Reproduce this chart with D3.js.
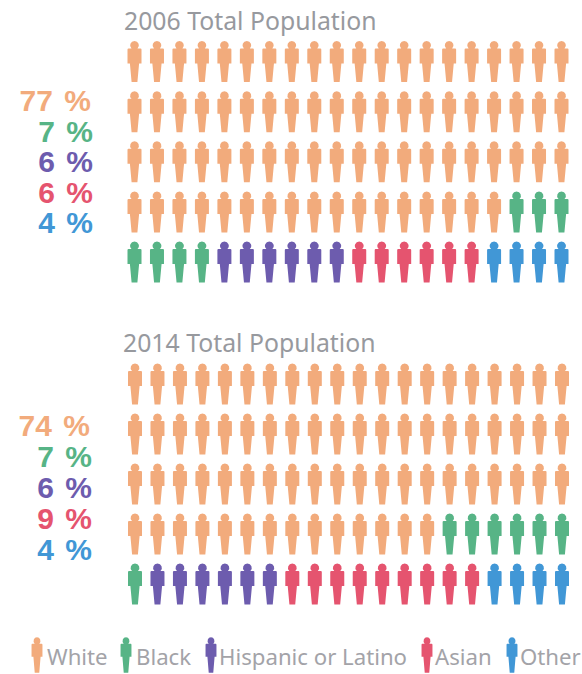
<!DOCTYPE html>
<html>
<head>
<meta charset="utf-8">
<script src="https://cdnjs.cloudflare.com/ajax/libs/d3/7.8.5/d3.min.js"></script>
<style>
  html, body { margin: 0; padding: 0; background: #fff; }
  text { font-family: "Noto Sans", "Open Sans", sans-serif; }
  text.pct { font-family: "Liberation Sans", Arial, sans-serif; word-spacing: 3px; }
</style>
</head>
<body>
<div id="chart"></div>
<script>
var width = 582, height = 674;

var groups = ["White", "Black", "Hispanic or Latino", "Asian", "Other"];
var colors = ["#f2ab7c", "#57b486", "#6d5cae", "#e5546f", "#4197d6"];

var counts2006 = [77, 7, 6, 6, 4];
var counts2014 = [74, 7, 6, 9, 4];

var titles = ["2006 Total Population", "2014 Total Population"];

var columns = d3.range(20);
var rows = d3.range(5);

var color = d3.scaleOrdinal().domain(groups).range(colors);

var svg = d3.select("#chart").append("svg")
    .attr("width", width)
    .attr("height", height)
    .style("display", "block");

// one person, about 41 tall, origin at the centre
var person = "M0,-20.5 a4.4,4.4 0 0 1 3,7.6 L6,-12.9 Q7,-12.9 7,-11.9 L7,2 L4.6,2 L2.9,20.5 L-2.9,20.5 L-4.6,2 L-7,2 L-7,-11.9 Q-7,-12.9 -6,-12.9 L-3,-12.9 A4.4,4.4 0 0 1 0,-20.5 Z";

function expand(counts) {
    var out = [];
    counts.forEach(function(c, i) {
        d3.range(c).forEach(function() { out.push(groups[i]); });
    });
    return out;
}

function drawPanel(counts, title, opt) {
    var x = d3.scalePoint().domain(columns).range([opt.x0, opt.x1]);
    var y = d3.scalePoint().domain(rows).range([opt.y0, opt.y1]);

    var g = svg.append("g");

    g.append("text")
        .attr("x", opt.titleX)
        .attr("y", opt.titleY)
        .attr("font-size", 24.8)
        .attr("fill", "#97999e")
        .text(title);

    g.selectAll("path.person")
        .data(expand(counts))
        .enter().append("path")
        .attr("class", "person")
        .attr("d", person)
        .attr("fill", function(d) { return color(d); })
        .attr("transform", function(d, i) {
            return "translate(" + x(i % 20) + "," + y(Math.floor(i / 20)) + ")";
        });

    var labelY = d3.scalePoint().domain(groups).range([opt.labelY0, opt.labelY1]);

    g.selectAll("text.pct")
        .data(counts)
        .enter().append("text")
        .attr("class", "pct")
        .attr("x", function(d, i) { return i === 0 ? opt.labelX - 2 : opt.labelX; })
        .attr("y", function(d, i) { return labelY(groups[i]); })
        .attr("text-anchor", "end")
        .attr("font-size", 30)
        .attr("font-weight", 700)
        .attr("fill", function(d, i) { return colors[i]; })
        .text(function(d) { return d + " %"; });
}

drawPanel(counts2006, titles[0], {x0: 134.5, x1: 561.5, y0: 61.5, y1: 262, titleX: 124, titleY: 30, labelX: 93, labelY0: 111, labelY1: 233});
drawPanel(counts2014, titles[1], {x0: 135, x1: 562, y0: 384, y1: 584, titleX: 123, titleY: 352, labelX: 92, labelY0: 436, labelY1: 560});

// legend
var legendIcon = [37, 126, 211, 427, 512];
var legendText = [47, 136, 219, 435, 520];

var legend = svg.selectAll("g.legend")
    .data(groups)
    .enter().append("g")
    .attr("class", "legend");

legend.append("path")
    .attr("d", person)
    .attr("fill", function(d) { return color(d); })
    .attr("transform", function(d, i) { return "translate(" + legendIcon[i] + ",655) scale(0.78,0.87)"; });

legend.append("text")
    .attr("x", function(d, i) { return legendText[i]; })
    .attr("y", 665)
    .attr("font-size", 22.2)
    .attr("fill", "#a3a3a8")
    .text(function(d) { return d; });
</script>
</body>
</html>
